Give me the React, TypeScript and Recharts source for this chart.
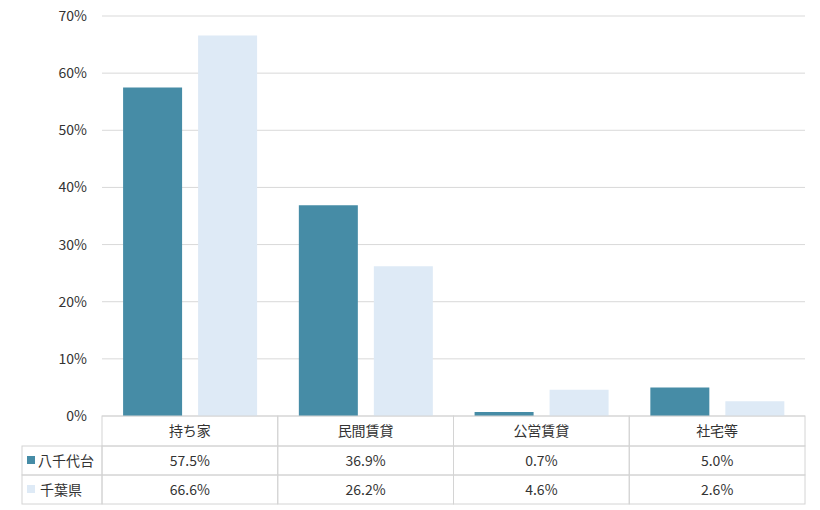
import React from 'react';
import { BarChart, Bar, XAxis, YAxis, CartesianGrid } from 'recharts';

// 住居の種類別 世帯割合（%）
const categories = ['持ち家', '民間賃貸', '公営賃貸', '社宅等'];
const yachiyodai = [57.5, 36.9, 0.7, 5.0];
const chiba = [66.6, 26.2, 4.6, 2.6];
const seriesNames = ['八千代台', '千葉県'];
const yTicks = [0, 10, 20, 30, 40, 50, 60, 70];

const colors = ['#468CA6', '#DEEAF6'];
const border = '#D4D4D4';
const textColor = '#333333';
const font = '"Noto Sans CJK JP", "Noto Sans", sans-serif';

const data = categories.map((name, i) => ({
  name,
  yachiyodai: yachiyodai[i],
  chiba: chiba[i],
}));

const plotWidth = 703;
const band = plotWidth / categories.length;

const TableTick = (props: any) => {
  const { x, y, payload, index } = props;
  const left = x - band / 2;
  const rows = [yachiyodai[index], chiba[index]];
  return (
    <g>
      <rect x={left} y={y} width={band} height={30} fill="none" stroke={border} />
      <text x={x} y={y + 20} textAnchor="middle" fontSize={14} fill={textColor} fontFamily={font}>
        {payload.value}
      </text>
      {rows.map((v, r) => (
        <g key={r}>
          <rect x={left} y={y + 30 + r * 29} width={band} height={29} fill="none" stroke={border} />
          <text x={x} y={y + 50 + r * 29} textAnchor="middle" fontSize={14} fill={textColor} fontFamily={font}>
            {v.toFixed(1)}%
          </text>
        </g>
      ))}
      {index === 0 &&
        seriesNames.map((s, r) => (
          <g key={s}>
            <rect x={22} y={y + 30 + r * 29} width={left - 22} height={29} fill="none" stroke={border} />
            <rect x={27} y={y + 40 + r * 29} width={8} height={8} fill={colors[r]} />
            <text x={r === 0 ? 38 : 40} y={y + 50 + r * 29} fontSize={14} fill={textColor} fontFamily={font}>
              {s}
            </text>
          </g>
        ))}
    </g>
  );
};

export default function App() {
  return (
    <div style={{ position: 'absolute', left: 0, top: 0, background: '#fff' }}>
      <BarChart
        width={820}
        height={510}
        data={data}
        margin={{ top: 16, right: 15, left: 0, bottom: 6 }}
        barCategoryGap="12%"
        barGap={16}
      >
        <CartesianGrid vertical={false} stroke="#D9D9D9" />
        <XAxis
          dataKey="name"
          height={88}
          axisLine={false}
          tickLine={false}
          tickSize={0}
          tickMargin={0}
          interval={0}
          tick={<TableTick />}
        />
        <YAxis
          width={102}
          domain={[0, 70]}
          ticks={yTicks}
          axisLine={false}
          tickLine={false}
          tickSize={0}
          tickMargin={15}
          tickFormatter={(v) => `${v}%`}
          tick={{ fontSize: 14, fill: textColor, fontFamily: font }}
        />
        <Bar dataKey="yachiyodai" name={seriesNames[0]} fill={colors[0]} isAnimationActive={false} />
        <Bar dataKey="chiba" name={seriesNames[1]} fill={colors[1]} isAnimationActive={false} />
      </BarChart>
    </div>
  );
}
